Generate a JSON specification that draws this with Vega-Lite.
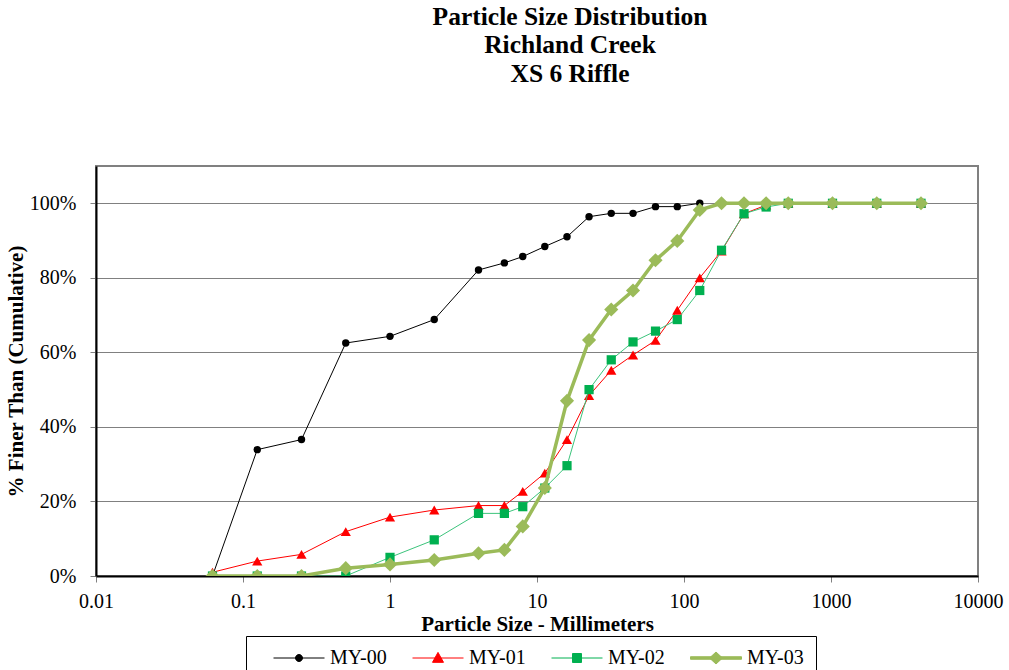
{
  "$schema": "https://vega.github.io/schema/vega-lite/v6.json",
  "width": 882,
  "height": 410,
  "autosize": "none",
  "padding": {"left": 96, "top": 166, "right": 31, "bottom": 94},
  "background": "white",
  "config": {
    "font": "Liberation Serif",
    "view": {"stroke": "#808080", "strokeWidth": 2}
  },
  "title": {
    "text": ["Particle Size Distribution", "Richland Creek", "XS 6 Riffle"],
    "font": "Liberation Serif",
    "fontSize": 25.5,
    "fontWeight": "bold",
    "lineHeight": 28.5,
    "anchor": "middle",
    "frame": "group",
    "dx": 33,
    "offset": 79,
    "color": "black"
  },
  "data": {
    "values": [
      {"s": "MY-00", "d": 0.062, "p": 0.0},
      {"s": "MY-00", "d": 0.125, "p": 0.339},
      {"s": "MY-00", "d": 0.25, "p": 0.366},
      {"s": "MY-00", "d": 0.5, "p": 0.625},
      {"s": "MY-00", "d": 1, "p": 0.643},
      {"s": "MY-00", "d": 2, "p": 0.688},
      {"s": "MY-00", "d": 4, "p": 0.821},
      {"s": "MY-00", "d": 6, "p": 0.840},
      {"s": "MY-00", "d": 8, "p": 0.857},
      {"s": "MY-00", "d": 11.3, "p": 0.884},
      {"s": "MY-00", "d": 16, "p": 0.910},
      {"s": "MY-00", "d": 22.6, "p": 0.964},
      {"s": "MY-00", "d": 32, "p": 0.973},
      {"s": "MY-00", "d": 45, "p": 0.973},
      {"s": "MY-00", "d": 64, "p": 0.991},
      {"s": "MY-00", "d": 90, "p": 0.991},
      {"s": "MY-00", "d": 128, "p": 1.0},
      {"s": "MY-01", "d": 0.062, "p": 0.01},
      {"s": "MY-01", "d": 0.125, "p": 0.040},
      {"s": "MY-01", "d": 0.25, "p": 0.058},
      {"s": "MY-01", "d": 0.5, "p": 0.119},
      {"s": "MY-01", "d": 1, "p": 0.158},
      {"s": "MY-01", "d": 2, "p": 0.177},
      {"s": "MY-01", "d": 4, "p": 0.189},
      {"s": "MY-01", "d": 6, "p": 0.189},
      {"s": "MY-01", "d": 8, "p": 0.227},
      {"s": "MY-01", "d": 11.3, "p": 0.276},
      {"s": "MY-01", "d": 16, "p": 0.366},
      {"s": "MY-01", "d": 22.6, "p": 0.484},
      {"s": "MY-01", "d": 32, "p": 0.552},
      {"s": "MY-01", "d": 45, "p": 0.593},
      {"s": "MY-01", "d": 64, "p": 0.632},
      {"s": "MY-01", "d": 90, "p": 0.713},
      {"s": "MY-01", "d": 128, "p": 0.800},
      {"s": "MY-01", "d": 180, "p": 0.872},
      {"s": "MY-01", "d": 256, "p": 0.972},
      {"s": "MY-01", "d": 362, "p": 0.995},
      {"s": "MY-01", "d": 512, "p": 1.0},
      {"s": "MY-01", "d": 1024, "p": 1.0},
      {"s": "MY-01", "d": 2048, "p": 1.0},
      {"s": "MY-01", "d": 4096, "p": 1.0},
      {"s": "MY-02", "d": 0.062, "p": 0.0},
      {"s": "MY-02", "d": 0.125, "p": 0.0},
      {"s": "MY-02", "d": 0.25, "p": 0.0},
      {"s": "MY-02", "d": 0.5, "p": 0.0},
      {"s": "MY-02", "d": 1, "p": 0.050},
      {"s": "MY-02", "d": 2, "p": 0.097},
      {"s": "MY-02", "d": 4, "p": 0.168},
      {"s": "MY-02", "d": 6, "p": 0.168},
      {"s": "MY-02", "d": 8, "p": 0.186},
      {"s": "MY-02", "d": 11.3, "p": 0.236},
      {"s": "MY-02", "d": 16, "p": 0.296},
      {"s": "MY-02", "d": 22.6, "p": 0.500},
      {"s": "MY-02", "d": 32, "p": 0.580},
      {"s": "MY-02", "d": 45, "p": 0.628},
      {"s": "MY-02", "d": 64, "p": 0.657},
      {"s": "MY-02", "d": 90, "p": 0.688},
      {"s": "MY-02", "d": 128, "p": 0.766},
      {"s": "MY-02", "d": 180, "p": 0.874},
      {"s": "MY-02", "d": 256, "p": 0.972},
      {"s": "MY-02", "d": 362, "p": 0.990},
      {"s": "MY-02", "d": 512, "p": 1.0},
      {"s": "MY-02", "d": 1024, "p": 1.0},
      {"s": "MY-02", "d": 2048, "p": 1.0},
      {"s": "MY-02", "d": 4096, "p": 1.0},
      {"s": "MY-03", "d": 0.062, "p": 0.0},
      {"s": "MY-03", "d": 0.125, "p": 0.0},
      {"s": "MY-03", "d": 0.25, "p": 0.0},
      {"s": "MY-03", "d": 0.5, "p": 0.021},
      {"s": "MY-03", "d": 1, "p": 0.031},
      {"s": "MY-03", "d": 2, "p": 0.043},
      {"s": "MY-03", "d": 4, "p": 0.061},
      {"s": "MY-03", "d": 6, "p": 0.070},
      {"s": "MY-03", "d": 8, "p": 0.133},
      {"s": "MY-03", "d": 11.3, "p": 0.236},
      {"s": "MY-03", "d": 16, "p": 0.470},
      {"s": "MY-03", "d": 22.6, "p": 0.633},
      {"s": "MY-03", "d": 32, "p": 0.715},
      {"s": "MY-03", "d": 45, "p": 0.766},
      {"s": "MY-03", "d": 64, "p": 0.847},
      {"s": "MY-03", "d": 90, "p": 0.899},
      {"s": "MY-03", "d": 128, "p": 0.982},
      {"s": "MY-03", "d": 180, "p": 1.0},
      {"s": "MY-03", "d": 256, "p": 1.0},
      {"s": "MY-03", "d": 362, "p": 1.0},
      {"s": "MY-03", "d": 512, "p": 1.0},
      {"s": "MY-03", "d": 1024, "p": 1.0},
      {"s": "MY-03", "d": 2048, "p": 1.0},
      {"s": "MY-03", "d": 4096, "p": 1.0}
    ]
  },
  "encoding": {
    "x": {
      "field": "d",
      "type": "quantitative",
      "scale": {"type": "log", "domain": [0.01, 10000]},
      "axis": {
        "title": "Particle Size - Millimeters",
        "titleFont": "Liberation Serif",
        "titleFontSize": 21,
        "titleFontWeight": "bold",
        "titleColor": "black",
        "titlePadding": 2,
        "values": [0.01, 0.1, 1, 10, 100, 1000, 10000],
        "format": "~g",
        "labelFont": "Liberation Serif",
        "labelFontSize": 20,
        "labelColor": "black",
        "labelPadding": 9,
        "labelFlush": false,
        "grid": false,
        "domainColor": "black",
        "domainWidth": 2,
        "tickColor": "#808080",
        "tickSize": 6,
        "tickWidth": 1
      }
    },
    "y": {
      "field": "p",
      "type": "quantitative",
      "scale": {"domain": [0, 1.1], "nice": false},
      "axis": {
        "title": "% Finer Than (Cumulative)",
        "titleFont": "Liberation Serif",
        "titleFontSize": 21,
        "titleFontWeight": "bold",
        "titleColor": "black",
        "titlePadding": 3,
        "values": [0, 0.2, 0.4, 0.6, 0.8, 1.0],
        "format": ".0%",
        "labelFont": "Liberation Serif",
        "labelFontSize": 20,
        "labelColor": "black",
        "labelPadding": 14,
        "grid": true,
        "gridColor": "#808080",
        "gridWidth": 1,
        "domainColor": "black",
        "domainWidth": 2,
        "tickColor": "#808080",
        "tickSize": 6
      }
    },
    "color": {
      "field": "s",
      "type": "nominal",
      "scale": {"domain": ["MY-00", "MY-01", "MY-02", "MY-03"], "range": ["#000000", "#FF0000", "#00B050", "#9BBB59"]},
      "legend": {
        "title": null,
        "orient": "none",
        "legendX": 150,
        "legendY": 470,
        "direction": "horizontal",
        "padding": 12,
        "strokeColor": "#000000",
        "fillColor": "white",
        "symbolSize": 2601,
        "symbolOffset": 31,
        "labelOffset": 21,
        "columnPadding": 10,
        "labelFont": "Liberation Serif",
        "labelFontSize": 20,
        "labelColor": "black",
        "encode": {
          "symbols": {
            "update": {
              "shape": {"signal": "datum.value === 'MY-00' ? 'M-1,0H1M-0.137,0A0.137,0.137 0 1,0 0.137,0A0.137,0.137 0 1,0 -0.137,0Z' : datum.value === 'MY-01' ? 'M-1,0H1M0,-0.22L0.216,0.17L-0.216,0.17Z' : datum.value === 'MY-02' ? 'M-1,0H1M-0.176,-0.176H0.176V0.176H-0.176Z' : 'M-1,-0.05H1V0.05H-1ZM0,-0.235L0.255,0L0,0.235L-0.255,0Z'"},
              "stroke": {"signal": "datum.value === 'MY-00' ? '#000000' : datum.value === 'MY-01' ? '#FF0000' : datum.value === 'MY-02' ? '#3CC47C' : '#9BBB59'"},
              "strokeWidth": {"signal": "datum.value ? 1 : 1"},
              "opacity": {"value": 1}
            }
          }
        }
      }
    }
  },
  "layer": [
    {
      "transform": [{"filter": "datum.s === 'MY-00'"}],
      "layer": [
        {"mark": {"type": "line", "stroke": "#000000", "strokeWidth": 1, "clip": true}, "encoding": {}},
        {"mark": {"type": "point", "shape": "circle", "filled": true, "opacity": 1, "size": 55, "clip": true}}
      ]
    },
    {
      "transform": [{"filter": "datum.s === 'MY-01'"}],
      "layer": [
        {"mark": {"type": "line", "stroke": "#FF0000", "strokeWidth": 1, "clip": true}, "encoding": {}},
        {"mark": {"type": "point", "shape": "triangle-up", "filled": true, "opacity": 1, "size": 105, "clip": true}}
      ]
    },
    {
      "transform": [{"filter": "datum.s === 'MY-02'"}],
      "layer": [
        {"mark": {"type": "line", "stroke": "#3CC47C", "strokeWidth": 1, "clip": true}, "encoding": {}},
        {"mark": {"type": "point", "shape": "square", "filled": true, "opacity": 1, "size": 85, "clip": true}}
      ]
    },
    {
      "transform": [{"filter": "datum.s === 'MY-03'"}],
      "layer": [
        {"mark": {"type": "line", "stroke": "#9BBB59", "strokeWidth": 3.5, "clip": true}, "encoding": {}},
        {"mark": {"type": "point", "shape": "diamond", "filled": true, "opacity": 1, "size": 200, "clip": true}}
      ]
    }
  ]
}
